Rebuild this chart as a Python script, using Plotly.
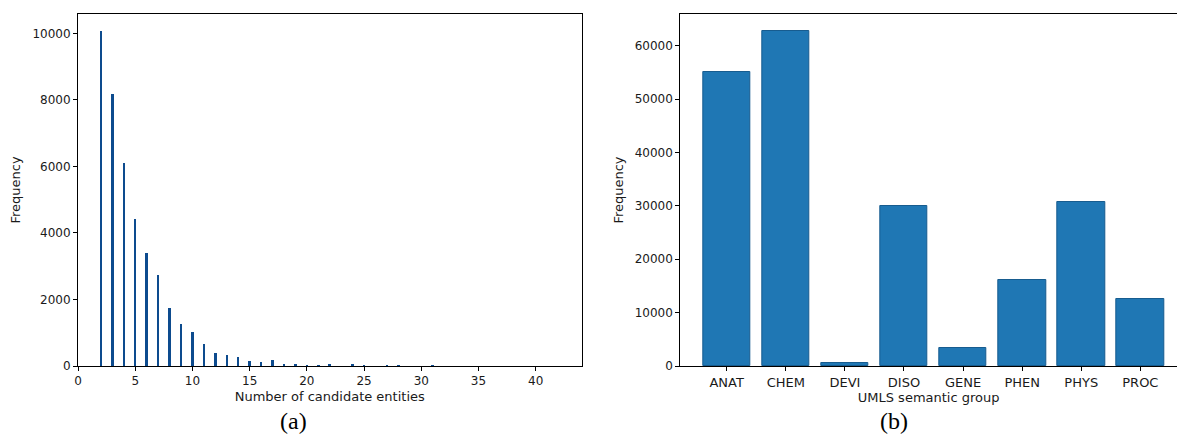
import plotly.graph_objects as go

# ---- Data (a): histogram of number of candidate entities ----
num_candidates = [2, 3, 4, 5, 6, 7, 8, 9, 10, 11, 12, 13, 14, 15, 16, 17, 18, 19, 20, 21, 22, 24, 25, 27, 28, 31]
cand_frequency = [10080, 8170, 6090, 4430, 3390, 2750, 1750, 1250, 1015, 650, 400, 340, 260, 150, 120, 180,
                  60, 60, 30, 30, 60, 60, 30, 20, 20, 30]
x_ticks_a = [0, 5, 10, 15, 20, 25, 30, 35, 40]
y_ticks_a = [0, 2000, 4000, 6000, 8000, 10000]

# ---- Data (b): UMLS semantic groups ----
groups = ["ANAT", "CHEM", "DEVI", "DISO", "GENE", "PHEN", "PHYS", "PROC"]
group_frequency = [55100, 62800, 500, 30050, 3450, 16050, 30800, 12600]
y_ticks_b = [0, 10000, 20000, 30000, 40000, 50000, 60000]

W, H = 1177, 435
FONT = "DejaVu Sans"
TXT = "#1a1a1a"
NUM_SIZE = 12
LBL_SIZE = 13

def px_x(p):
    return p / W

def px_y(p):
    return 1 - p / H

fig = go.Figure()

fig.add_trace(go.Bar(
    x=num_candidates, y=cand_frequency, width=0.22,
    marker=dict(color="#0d4b8e", line=dict(width=0)),
    xaxis="x", yaxis="y", showlegend=False,
))

fig.add_trace(go.Bar(
    x=list(range(len(groups))), y=group_frequency, width=0.8,
    marker=dict(color="#1f77b4", line=dict(color="#175c8f", width=1)),
    xaxis="x2", yaxis="y2", showlegend=False,
))

ydom = [px_y(366), px_y(14)]
common_axis = dict(
    showgrid=False, zeroline=False, showline=True, linecolor="black", linewidth=1,
    ticks="outside", ticklen=4, tickwidth=1, tickcolor="black", automargin=False,
    tickfont=dict(family=FONT, size=NUM_SIZE, color=TXT), tickformat="d",
)
title_font = dict(family=FONT, size=LBL_SIZE, color=TXT)

ymax_a = max(cand_frequency) * 1.05
ymax_b = max(group_frequency) * 1.05

fig.update_layout(
    width=W, height=H,
    margin=dict(l=0, r=0, t=0, b=0, autoexpand=False),
    paper_bgcolor="white", plot_bgcolor="white",
    bargap=0,
    xaxis=dict(
        common_axis, domain=[px_x(78), px_x(581.5)], range=[0, 44],
        tickvals=x_ticks_a, mirror=True, anchor="y",
        title=dict(text="Number of candidate entities", font=title_font, standoff=4),
    ),
    yaxis=dict(
        common_axis, domain=ydom, range=[0, ymax_a], tickvals=y_ticks_a,
        mirror=True, anchor="x",
        title=dict(text="Frequency", font=title_font, standoff=8),
    ),
    xaxis2=dict(
        common_axis, domain=[px_x(680.3), 1], range=[-0.785, 7.62],
        tickvals=list(range(len(groups))), ticktext=groups, mirror=True, anchor="y2",
        tickfont=dict(family=FONT, size=LBL_SIZE, color=TXT),
        title=dict(text="UMLS semantic group", font=title_font, standoff=4),
    ),
    yaxis2=dict(
        common_axis, domain=ydom, range=[0, ymax_b], tickvals=y_ticks_b,
        mirror=False, anchor="x2",
        title=dict(text="Frequency", font=title_font, standoff=8),
    ),
    annotations=[
        dict(text="(a)", x=px_x(293), y=px_y(421), xref="paper", yref="paper",
             showarrow=False, font=dict(family="Liberation Serif", size=24, color="black"),
             xanchor="center", yanchor="middle"),
        dict(text="(b)", x=px_x(894), y=px_y(421), xref="paper", yref="paper",
             showarrow=False, font=dict(family="Liberation Serif", size=24, color="black"),
             xanchor="center", yanchor="middle"),
    ],
)

fig.write_html(
    "out.html",
    config={"displayModeBar": False},
    post_script="document.body.style.margin='0';document.body.style.padding='0';document.body.style.overflow='hidden';",
)
